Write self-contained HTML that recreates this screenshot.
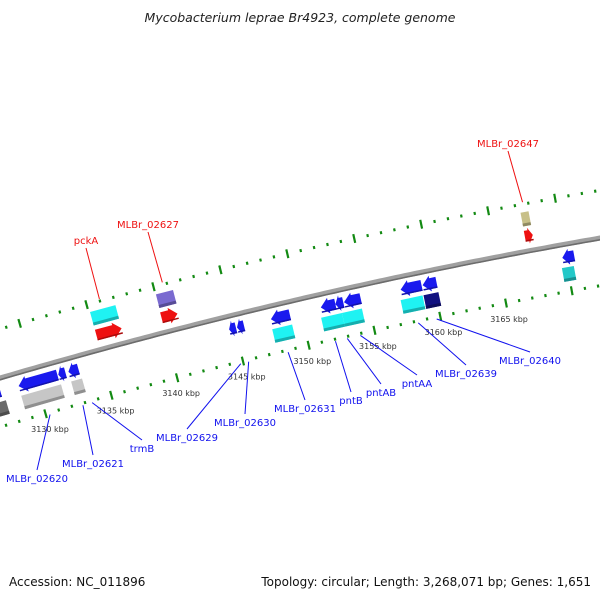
<!DOCTYPE html>
<html><head><meta charset="utf-8"><style>
html,body{margin:0;padding:0;background:#fff;}
svg{display:block;font-family:"DejaVu Sans","Liberation Sans",sans-serif;}
</style></head><body>
<svg id="map" width="600" height="600" viewBox="0 0 600 600" xmlns="http://www.w3.org/2000/svg">
<rect width="600" height="600" fill="#fff"/>
<text x="300" y="22" text-anchor="middle" font-size="12.5" font-style="italic" fill="#222">Mycobacterium leprae Br4923, complete genome</text>
<text x="9" y="586" font-size="12" fill="#111">Accession: NC_011896</text>
<text x="591" y="586" text-anchor="end" font-size="12" fill="#111">Topology: circular; Length: 3,268,071 bp; Genes: 1,651</text>
<g id="layer"></g>
</svg>
<script>
// ---- data ----
const featNames = ["left-gray","left-arrow","big-arrow","gray-box","small-arrow-1","small-arrow-2","small-gray","pckA-cds","pckA-gene","02627-box","02627-gene","02629","02630","02631-gene","02631-cds","pntB","pntAB","pntAA","pnt-cds-1","pnt-cds-2","02639-gene","02639-cds","02640-gene","02640-box","02647-box","02647-gene","right-gene","right-cds"];
const featStart = [3126.0,3126.3,3128.67,3128.66,3131.67,3132.43,3132.43,3135.1,3135.1,3140.03,3140.0,3144.57,3145.17,3147.73,3147.65,3151.5,3152.6,3153.25,3151.35,3152.93,3157.53,3157.37,3159.19,3159.1,3167.31,3167.3,3169.74,3169.58];
const featEnd   = [3127.5,3127.3,3131.6,3131.67,3132.21,3133.19,3133.26,3137.0,3137.0,3141.31,3141.2,3145.09,3145.7,3149.16,3149.16,3152.6,3153.2,3154.51,3152.93,3154.44,3159.11,3159.03,3160.24,3160.23,3167.91,3167.9,3170.64,3170.48];
// row: -2 outer top, -1 inner top, 1 inner bottom, 2 outer bottom ; shape: a=arrow, b=box
const featRow   = [2,1,1,2,1,1,2,-2,-1,-2,-1,1,1,1,2,1,1,1,2,2,1,2,1,2,-2,-1,1,2];
const featShape = ["b","a","a","b","a","a","b","b","a","b","a","a","a","a","b","a","a","a","b","b","a","b","a","b","b","a","a","b"];
const featColor = ["#6a6a6a","#1a1aee","#1a1aee","#c6c6c6","#1a1aee","#1a1aee","#c6c6c6","#1ff2f2","#ee1111","#7a6ad0","#ee1111","#1a1aee","#1a1aee","#1a1aee","#1ff2f2","#1a1aee","#1a1aee","#1a1aee","#1ff2f2","#1ff2f2","#1a1aee","#1ff2f2","#1a1aee","#101080","#c8c088","#ee1111","#1a1aee","#22c8c8"];
const tickStart = 3124, tickEnd = 3174;
const majorLabels = [3130,3135,3140,3145,3150,3155,3160,3165];
const labelText = ["pckA","MLBr_02627","MLBr_02647","MLBr_02620","MLBr_02621","trmB","MLBr_02629","MLBr_02630","MLBr_02631","pntB","pntAB","pntAA","MLBr_02639","MLBr_02640"];
const labelKbp  = [3136.0,3140.7,3167.6,3130.3,3132.8,3133.5,3144.8,3145.4,3148.4,3152.0,3152.9,3153.9,3158.3,3159.7];
// ---- layout (not data) ----
const labelXY = [[86,244],[148,228],[508,147],[37,482],[93,467],[142,452],[187,441],[245,426],[305,412],[351,404],[381,396],[417,387],[466,377],[530,364]];

const NS="http://www.w3.org/2000/svg";
const layer=document.getElementById('layer');
function xb(k){return 32.6+(k-3130)*13.27;}
function pt(k,d){const x=xb(k);const y=378-0.2933*x+0.0001*x*x;const s=-0.2933+0.0002*x;const L=Math.sqrt(1+s*s);return [x-s*d/L,y+d/L];}
function mk(tag,attrs){const e=document.createElementNS(NS,tag);for(const a in attrs)e.setAttribute(a,attrs[a]);layer.appendChild(e);return e;}
function P(a){return a.map(p=>p[0].toFixed(1)+','+p[1].toFixed(1)).join(' ');}
function shade(c,f){const n=parseInt(c.slice(1),16);let r=(n>>16)&255,g=(n>>8)&255,b=n&255;r=Math.round(r*f);g=Math.round(g*f);b=Math.round(b*f);return 'rgb('+r+','+g+','+b+')';}

// backbone
let pts=[];for(let x=-10;x<=610;x+=5){pts.push([x,378-0.2933*x+0.0001*x*x]);}
const bb=mk('polyline',{points:P(pts),fill:'none',stroke:'#a0a0a0','stroke-width':5});


const bb2=mk('polyline',{points:P(pts.map(p=>[p[0],p[1]+1.8])),fill:'none',stroke:'#6c6c6c','stroke-width':1.6});



// tick tracks
[-47,47].forEach(function(d){
  for(let k=tickStart;k<=tickEnd;k++){
    const major=(k%5===0);const h=major?4.5:1.5;
    const a=pt(k,d-h),b=pt(k,d+h);
    const t=mk('line',{x1:a[0],y1:a[1],x2:b[0],y2:b[1],stroke:'#138a13','stroke-width':2.2});
    
    
  }
});
majorLabels.forEach(function(k){
  const p=pt(k,63);
  const t=mk('text',{x:p[0],y:p[1]+3,'text-anchor':'middle','font-size':8,fill:'#333'});
  t.textContent=k+' kbp';
  
  
});

// features
const rowD={'-2':-32,'-1':-15,'1':13,'2':30};
featNames.forEach(function(n,i){
  const r=featRow[i],c=rowD[r],s=featStart[i],e=featEnd[i];
  let poly;
  if(featShape[i]==='b'){
    poly=[pt(s,c-7),pt(e,c-7),pt(e,c+7),pt(s,c+7)];
  } else {
    const len=e-s;const head=Math.min(0.6,len*0.55);
    if(r>0){ // reverse, points left
      poly=[pt(s,c),pt(s+head,c-8),pt(s+head,c-5.5),pt(e,c-5.5),pt(e,c+5.5),pt(s+head,c+5.5),pt(s+head,c+8)];
    } else {
      poly=[pt(e,c),pt(e-head,c-8),pt(e-head,c-5.5),pt(s,c-5.5),pt(s,c+5.5),pt(e-head,c+5.5),pt(e-head,c+8)];
    }
  }
  const g=mk('polygon',{points:P(poly),fill:featColor[i]});
  
  
  // bottom shade strip
  const sh=mk('polygon',{points:P([pt(s,c+4),pt(e,c+4),pt(e,c+(featShape[i]==='b'?7:5.5)),pt(s,c+(featShape[i]==='b'?7:5.5))]),fill:shade(featColor[i],0.72)});
  
  
});

// labels
labelText.forEach(function(t,i){
  const top=(i<3);const col=top?'#ee1111':'#1111ee';
  const a=pt(labelKbp[i],top?-49:49);const L=labelXY[i];
  const ly=top?L[1]+4:L[1]-12;
  const ln=mk('line',{x1:a[0],y1:a[1],x2:L[0],y2:ly,stroke:col,'stroke-width':1});
  
  
  const tx=mk('text',{x:L[0],y:L[1],'text-anchor':'middle','font-size':10,fill:col});
  tx.textContent=t;
  
  
});
</script>
</body></html>
